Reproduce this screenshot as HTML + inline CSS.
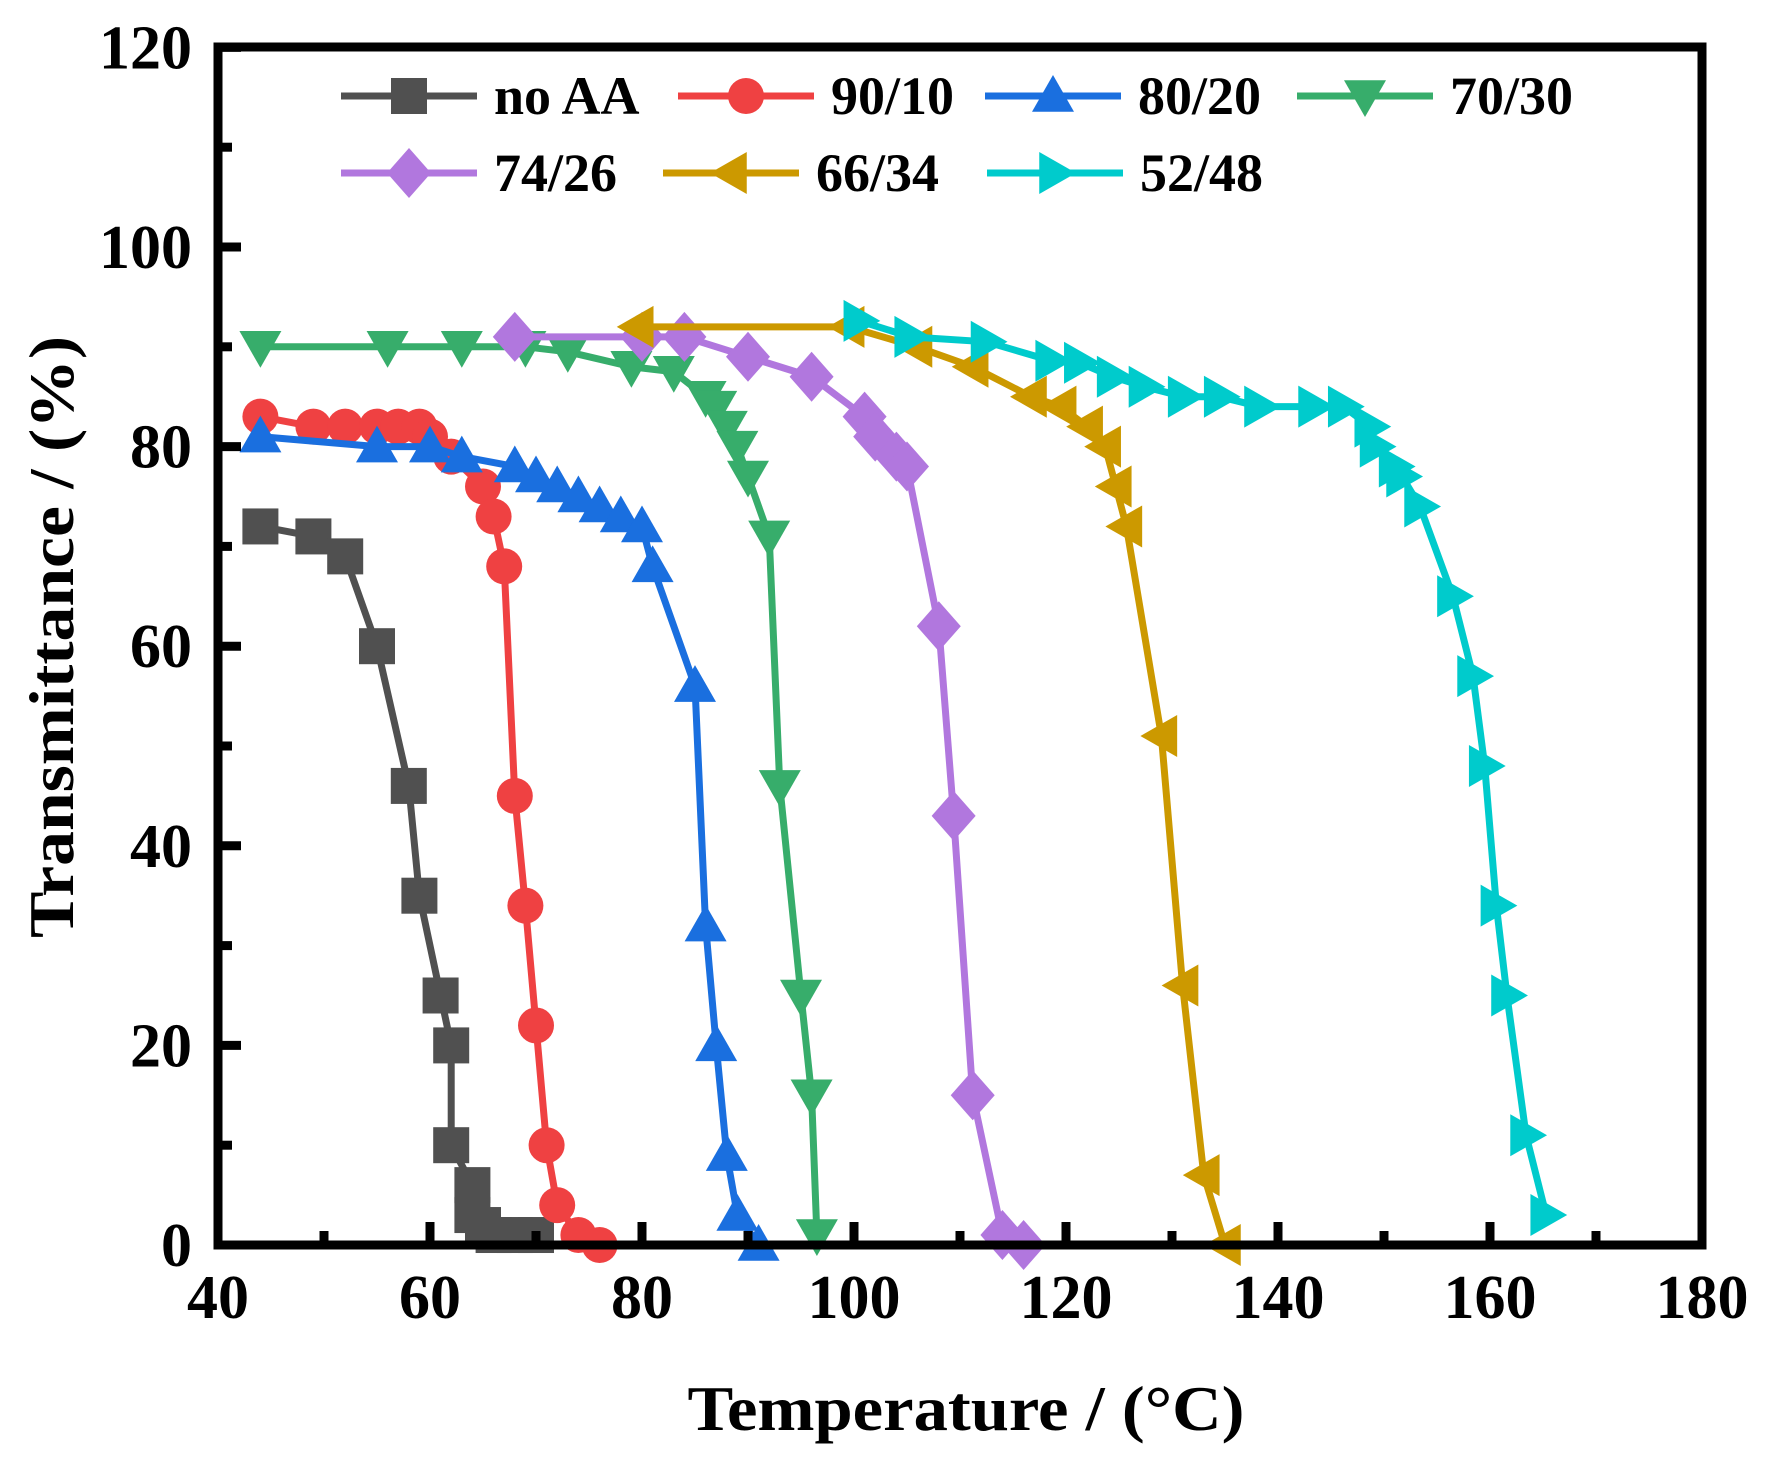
<!DOCTYPE html>
<html><head><meta charset="utf-8"><style>
html,body{margin:0;padding:0;background:#fff}
svg{display:block}
text{font-family:"Liberation Serif",serif;font-weight:bold;fill:#000}
</style></head><body>
<svg id="s" width="1768" height="1463" viewBox="0 0 1768 1463" xmlns="http://www.w3.org/2000/svg"></svg>
<script>
const X=t=>218+(t-40)*10.6, Y=v=>1245-v*9.98;
const S=document.getElementById('s');let h='';
const series=[
["#505050","sq",[[44,72],[49,71],[52,69],[55,60],[58,46],[59,35],[61,25],[62,20],[62,10],[64,6],[64,3],[65,2],[66,1],[68,1],[70,1]]],
["#EF4142","ci",[[44,83],[49,82],[52,82],[55,82],[57,82],[59,82],[60,81],[62,79],[65,76],[66,73],[67,68],[68,45],[69,34],[70,22],[71,10],[72,4],[74,1],[76,0]]],
["#1A6FDF","up",[[44,81],[55,80],[60,80],[63,79],[68,78],[70,77],[72,76],[74,75],[76,74],[78,73],[80,72],[81,68],[85,56],[86,32],[87,20],[88,9],[89,3],[91,0]]],
["#37AD6B","dn",[[44,90],[56,90],[63,90],[69,90],[73,89.5],[79,88],[83,87.5],[86,85],[87,84],[88,82],[89,80],[90,77],[92,71],[93,46],[95,25],[96,15],[96.5,1]]],
["#B177DE","di",[[68,91],[80,91],[84,91],[90,89],[96,87],[101,83],[102,81],[104,79],[105,78],[108,62],[109.4,43],[111.2,15],[114,1],[116,0]]],
["#CC9900","lt",[[79.6,92],[99.5,92],[105.9,90],[111.2,88],[116.7,85],[119.5,84],[122,82],[123.7,80],[124.7,76],[125.7,72],[129,51],[131,26],[133,7],[135,0]]],
["#00CBCC","rt",[[100.5,92.6],[105.3,91],[112.5,90.5],[118.6,88.6],[121.3,88.4],[124.4,87],[127.4,86],[131.1,85],[134.5,85],[138.3,84],[143.4,84],[146.2,84],[148.7,82],[149.2,80],[151,78],[151.7,77],[153.4,74],[156.5,65],[158.4,57],[159.5,48],[160.6,34],[161.6,25],[163.4,11],[165.3,3]]]];
function mk(t,x,y,c){
 if(t=="sq")return `<rect x="${x-18}" y="${y-18}" width="36" height="36" fill="${c}"/>`;
 if(t=="ci")return `<circle cx="${x}" cy="${y}" r="18" fill="${c}"/>`;
 let p;const a=21;
 if(t=="up")p=[[x,y-a],[x+a,y+a*0.75],[x-a,y+a*0.75]];
 if(t=="dn")p=[[x,y+a],[x+a,y-a*0.75],[x-a,y-a*0.75]];
 if(t=="lt")p=[[x-a,y],[x+a*0.75,y-a],[x+a*0.75,y+a]];
 if(t=="rt")p=[[x+a,y],[x-a*0.75,y-a],[x-a*0.75,y+a]];
 if(t=="di")p=[[x,y-25],[x+22,y],[x,y+25],[x-22,y]];
 return `<polygon points="${p.map(q=>q.join(',')).join(' ')}" fill="${c}"/>`;
}
for(const [c,t,d] of series){
 h+=`<polyline fill="none" stroke="${c}" stroke-width="7" stroke-linejoin="round" points="${d.map(p=>X(p[0])+','+Y(p[1])).join(' ')}"/>`;
 for(const p of d)h+=mk(t,X(p[0]),Y(p[1]),c);
}
h+=`<rect x="218" y="47" width="1484" height="1198" fill="none" stroke="#000" stroke-width="9"/>`;
for(let v=0;v<=120;v+=10){const y=Y(v);const L=v%20==0?19:10;h+=`<line x1="218" x2="${218+L+4}" y1="${y}" y2="${y}" stroke="#000" stroke-width="9"/>`;
 if(v%20==0)h+=`<text x="192" y="${y+21}" font-size="62" text-anchor="end">${v}</text>`;}
for(let t=40;t<=180;t+=10){const x=X(t);const L=t%20==0?19:10;h+=`<line x1="${x}" x2="${x}" y1="1245" y2="${1245-L-4}" stroke="#000" stroke-width="9"/>`;
 if(t%20==0)h+=`<text x="${x}" y="1318" font-size="62" text-anchor="middle">${t}</text>`;}
h+=`<text x="966" y="1430" font-size="64" text-anchor="middle" textLength="557" lengthAdjust="spacingAndGlyphs">Temperature / (°C)</text>`;
h+=`<text transform="translate(73,637) rotate(-90)" font-size="64" text-anchor="middle" textLength="602" lengthAdjust="spacingAndGlyphs">Transmittance / (%)</text>`;
const leg=[[341,96,0,"no AA"],[678,96,1,"90/10"],[985,96,2,"80/20"],[1297,96,3,"70/30"],[341,173,4,"74/26"],[663,173,5,"66/34"],[987,173,6,"52/48"]];
for(const [x,y,i,l] of leg){const [c,t]=series[i];
 h+=`<line x1="${x}" x2="${x+136}" y1="${y}" y2="${y}" stroke="${c}" stroke-width="7"/>`+mk(t,x+68,y,c)+
 `<text x="${x+153}" y="${y+18}" font-size="54">${l}</text>`;}
S.innerHTML=h;
</script>
</body></html>
